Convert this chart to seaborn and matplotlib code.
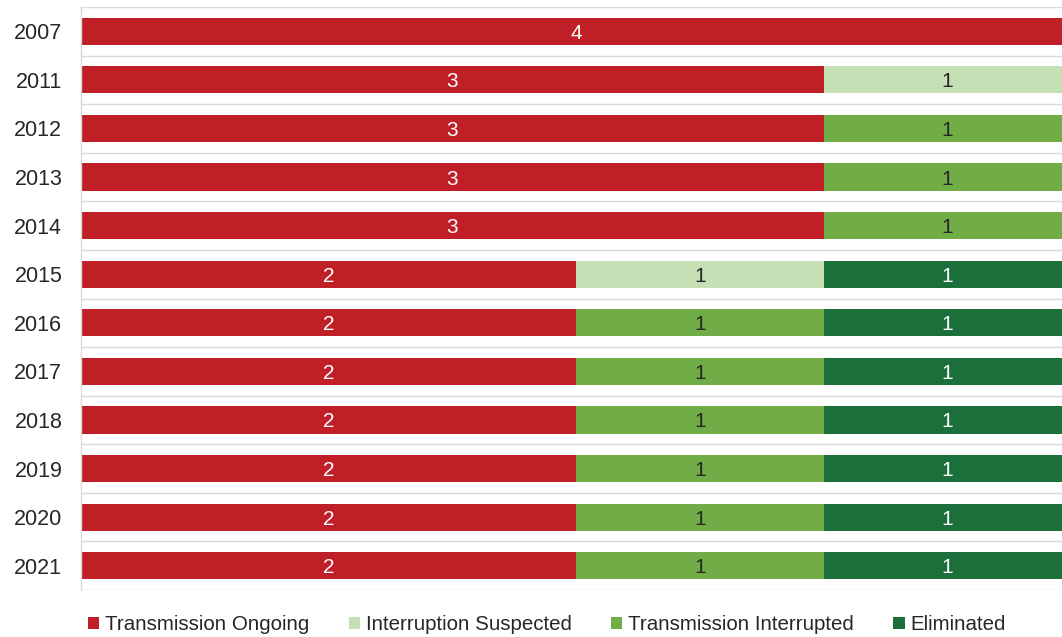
import numpy as np
import pandas as pd
import matplotlib
matplotlib.use("Agg")
import matplotlib.pyplot as plt
from matplotlib.patches import Patch
import seaborn as sns

years = ["2007", "2011", "2012", "2013", "2014", "2015", "2016", "2017", "2018", "2019", "2020", "2021"]
ongoing = [4, 3, 3, 3, 3, 2, 2, 2, 2, 2, 2, 2]
suspected = [0, 1, 0, 0, 0, 1, 0, 0, 0, 0, 0, 0]
interrupted = [0, 0, 1, 1, 1, 0, 1, 1, 1, 1, 1, 1]
eliminated = [0, 0, 0, 0, 0, 1, 1, 1, 1, 1, 1, 1]

series_names = ["Transmission Ongoing", "Interruption Suspected",
                "Transmission Interrupted", "Eliminated"]
series_values = [ongoing, suspected, interrupted, eliminated]
colors = ["#C01F28", "#C5E0B4", "#70AD47", "#1A6F3B"]
text_colors = ["white", "#262626", "#262626", "white"]

sns.set_theme(style="white")
plt.rcParams["font.family"] = ["Liberation Sans", "DejaVu Sans"]

df = pd.DataFrame({"year": years})
for name, vals in zip(series_names, series_values):
    df[name] = vals
cum = df[series_names].cumsum(axis=1)

fig = plt.figure(figsize=(10.62, 6.37), dpi=100)
ax = fig.add_axes([81 / 1062, 1 - 590 / 637, (1071 - 81) / 1062, (590 - 7) / 637])

# stacked bars: draw cumulative totals from the outermost segment inward
for name, color in reversed(list(zip(series_names, colors))):
    sns.barplot(data=cum.assign(year=years), y="year", x=name, orient="h",
                color=color, width=0.56, ax=ax, saturation=1, linewidth=0)

# segment value labels
for i, year in enumerate(years):
    for j, name in enumerate(series_names):
        v = df.loc[i, name]
        if v > 0:
            center = cum.loc[i, name] - v / 2
            ax.text(center, i, f"{v}", ha="center", va="center_baseline",
                    fontsize=15, color=text_colors[j])

ax.set_xlim(0, 4)
ax.set_ylim(len(years) - 0.5, -0.5)
ax.set_xlabel("")
ax.set_ylabel("")
ax.set_xticks([])
ax.set_yticks(range(len(years)))
ax.set_yticklabels(years, fontsize=15.5, color="#262626")
ax.tick_params(axis="y", length=0, pad=13.5)
ax.set_yticks(np.arange(-0.5, len(years), 1.0), minor=True)
ax.tick_params(axis="y", which="minor", length=0)
ax.grid(True, axis="y", which="minor", color="#D9D9D9", linewidth=1.0)
ax.grid(False, axis="y", which="major")
ax.set_axisbelow(True)
for side in ["top", "right", "bottom"]:
    ax.spines[side].set_visible(False)
ax.spines["left"].set_color("#D9D9D9")
ax.spines["left"].set_linewidth(1.0)

handles = [Patch(facecolor=c, edgecolor="none") for c in colors]
fig.legend(handles, series_names, loc="center", bbox_to_anchor=(0.515, 1 - 625 / 637),
           ncol=4, frameon=False, fontsize=14.8, handlelength=0.55, handleheight=0.55,
           handletextpad=0.3, columnspacing=1.9, labelcolor="#262626")

fig.savefig("out.png", dpi=100)
